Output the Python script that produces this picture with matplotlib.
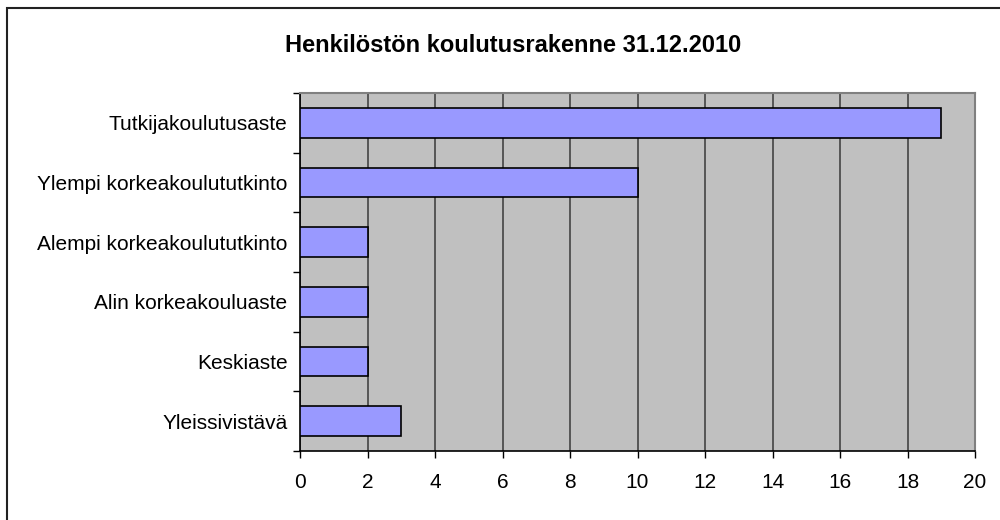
import matplotlib
matplotlib.use("Agg")
import matplotlib.pyplot as plt
from matplotlib.patches import Rectangle

categories = ["Tutkijakoulutusaste", "Ylempi korkeakoulututkinto", "Alempi korkeakoulututkinto",
              "Alin korkeakouluaste", "Keskiaste", "Yleissivistävä"]
values = [19, 10, 2, 2, 2, 3]
xticks = list(range(0, 21, 2))
title = "Henkilöstön koulutusrakenne 31.12.2010"

plt.rcParams['font.family'] = ['Liberation Sans', 'DejaVu Sans']

fig = plt.figure(figsize=(10, 5.2), dpi=100)
fig.patches.append(Rectangle((0.007, -0.1), 1.2, 1.085, transform=fig.transFigure,
                             fill=False, edgecolor='#222222', linewidth=1.5))
ax = fig.add_axes([0.3, 0.1327, 0.675, 0.6885])
ax.set_facecolor('#C0C0C0')

n = len(categories)
ypos = list(range(n))[::-1]
ax.barh(ypos, values, height=0.5, color='#9999FF', edgecolor='black', linewidth=1.2, zorder=3)
ax.set_xlim(0, 20)
ax.set_ylim(-0.5, n - 0.5)
ax.set_xticks(xticks)
ax.set_xticklabels([str(t) for t in xticks], fontsize=15)
ax.set_yticks(ypos)
ax.set_yticklabels(categories, fontsize=15)
ax.tick_params(axis='y', length=0, pad=9)
ax.set_yticks([i + 0.5 for i in range(-1, n)], minor=True)
ax.tick_params(axis='y', which='minor', length=5, width=1, color='black')
ax.tick_params(axis='x', length=5, width=1, pad=11)
ax.grid(axis='x', color='#444444', linewidth=1.2, zorder=1)
for s in ['top', 'right']:
    ax.spines[s].set_color('#808080')
    ax.spines[s].set_linewidth(1.5)
for s in ['left', 'bottom']:
    ax.spines[s].set_color('black')
    ax.spines[s].set_linewidth(1.2)
fig.text(0.513, 0.913, title, ha='center', va='center', fontsize=17, fontweight='bold')
fig.savefig('out.png', dpi=100)
